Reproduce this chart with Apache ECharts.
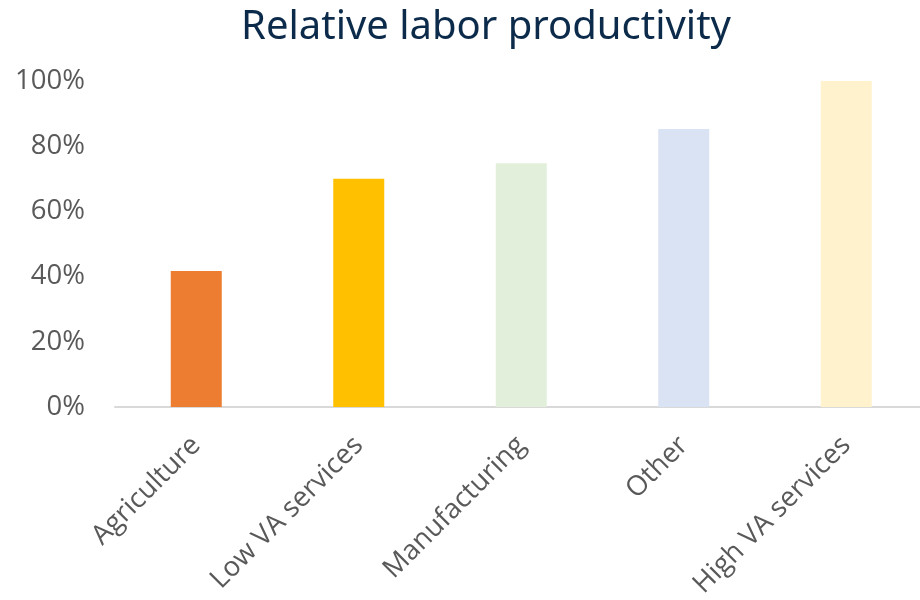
<!DOCTYPE html>
<html><head><meta charset="utf-8">
<script src="https://cdn.jsdelivr.net/npm/echarts@6/dist/echarts.min.js"></script>
<style>html,body{margin:0;padding:0;background:#fff}#c{width:920px;height:600px}</style>
</head><body><div id="c"></div>
<script>
const categories = ["Agriculture", "Low VA services", "Manufacturing", "Other", "High VA services"];
const values = [0.417, 0.70, 0.748, 0.853, 1.0];
const barColors = ["#ED7D31", "#FFC000", "#E2EFDA", "#DAE3F3", "#FFF2CC"];
const yTicks = [0, 0.2, 0.4, 0.6, 0.8, 1.0];

const chart = echarts.init(document.getElementById('c'), null, {renderer: 'canvas'});
chart.setOption({
  animation: false,
  backgroundColor: '#fff',
  title: {
    text: 'Relative labor productivity',
    left: 236, top: 3,
    textStyle: {fontFamily: 'Noto Sans', fontSize: 40, fontWeight: 'normal', color: '#0C2B4B'}
  },
  grid: {left: 115, top: 81, width: 812.5, height: 326, containLabel: false, outerBoundsMode: 'none'},
  xAxis: {
    type: 'category', data: categories,
    axisLine: {lineStyle: {color: '#D9D9D9', width: 2}},
    axisTick: {show: false},
    axisLabel: {rotate: 45, margin: 34, interval: 0, color: '#595959', fontFamily: 'Open Sans', fontSize: 27.5}
  },
  yAxis: {
    type: 'value', min: yTicks[0], max: yTicks[yTicks.length - 1], interval: 0.2,
    splitLine: {show: false}, axisLine: {show: false}, axisTick: {show: false},
    axisLabel: {margin: 30, color: '#595959', fontFamily: 'Open Sans', fontSize: 27.5,
      formatter: v => Math.round(v * 100) + '%'}
  },
  series: [{
    type: 'bar', barWidth: 51,
    data: values.map((v, i) => ({value: v, itemStyle: {color: barColors[i]}}))
  }]
});
</script></body></html>
